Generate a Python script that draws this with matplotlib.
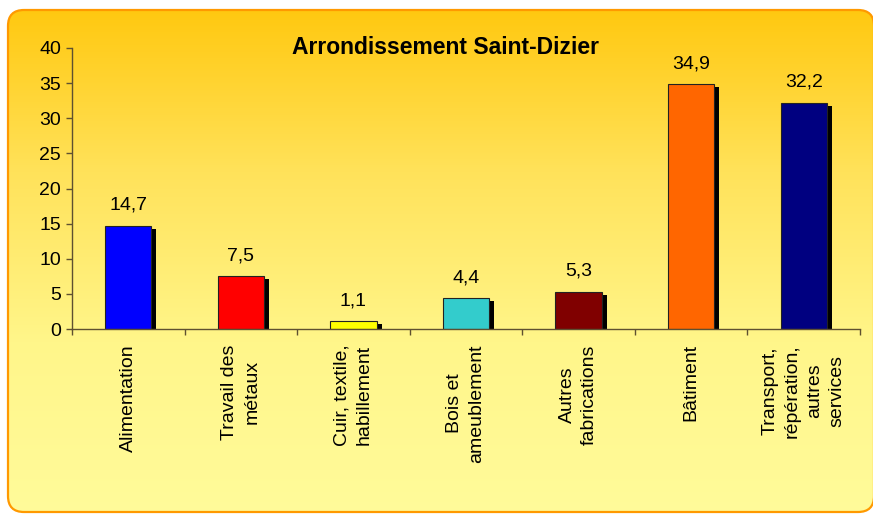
import numpy as np
import matplotlib.pyplot as plt
from matplotlib.patches import FancyBboxPatch
from matplotlib.colors import LinearSegmentedColormap
from matplotlib.transforms import offset_copy

# data
categories = ["Alimentation", "Travail des\nmétaux", "Cuir, textile,\nhabillement",
              "Bois et\nameublement", "Autres\nfabrications", "Bâtiment",
              "Transport,\nrépération,\nautres\nservices"]
values = [14.7, 7.5, 1.1, 4.4, 5.3, 34.9, 32.2]
value_labels = ["14,7", "7,5", "1,1", "4,4", "5,3", "34,9", "32,2"]
bar_colors = ["#0000FF", "#FF0000", "#FFFF00", "#33CCCC", "#800000", "#FF6600", "#000080"]
yticks = [0, 5, 10, 15, 20, 25, 30, 35, 40]
title = "Arrondissement Saint-Dizier"

plt.rcParams['font.family'] = ['Liberation Sans', 'DejaVu Sans']

W, H = 873, 514
fig = plt.figure(figsize=(W / 100, H / 100), dpi=100)
fig.patch.set_facecolor("white")

# rounded background with yellow gradient
bg = fig.add_axes([0, 0, 1, 1], zorder=0)
bg.set_xlim(0, W)
bg.set_ylim(H, 0)
bg.axis("off")
frame = FancyBboxPatch((8, 10), 866, 502, boxstyle="round,pad=0,rounding_size=16",
                       facecolor="none", edgecolor="#FF9900", linewidth=1.6)
bg.add_patch(frame)
cmap = LinearSegmentedColormap.from_list("bgy", ["#FFC70C", "#FFE25A", "#FFF68A", "#FFFB9A"])
grad = np.linspace(0, 1, 256).reshape(-1, 1)
im = bg.imshow(grad, extent=(0, W, H, 0), cmap=cmap, aspect="auto", origin="upper")
im.set_clip_path(frame)

# chart area
ax = fig.add_axes([72 / W, 1 - 329 / H, (860 - 72) / W, (329 - 48) / H], zorder=1)
ax.patch.set_alpha(0)
x = np.arange(len(values))
width = 0.41

shadow_tr = offset_copy(ax.transData, fig=fig, x=5, y=-3, units="dots")
ax.bar(x, values, width, color="black", transform=shadow_tr, zorder=1)
ax.bar(x, values, width, color=bar_colors, edgecolor="#222222", linewidth=0.8, zorder=2)

for i, v in enumerate(values):
    ax.annotate(value_labels[i], xy=(i, v), xytext=(0, 8.5), textcoords="offset points",
                ha="center", va="bottom", fontsize=14)

for i, cat in enumerate(categories):
    ax.annotate(cat, xy=(i, 0), xycoords=("data", "axes fraction"), xytext=(0, -11),
                textcoords="offset points", rotation=90, ha="center", va="top",
                multialignment="center", fontsize=14, linespacing=1.4)

ax.set_xlim(-0.5, len(values) - 0.5)
ax.set_ylim(0, 40)
ax.set_yticks(yticks)
ax.set_xticks(np.arange(len(values) + 1) - 0.5)
ax.set_xticklabels([])
axis_color = "#5E5030"
for s in ["top", "right"]:
    ax.spines[s].set_visible(False)
for s in ["left", "bottom"]:
    ax.spines[s].set_color(axis_color)
    ax.spines[s].set_linewidth(1.0)
ax.tick_params(axis="both", direction="out", length=4, width=1.0, color=axis_color,
               labelsize=14, pad=4)

fig.text(446 / W, 1 - 47 / H, title, ha="center", va="center", fontsize=16.5, fontweight="bold")

fig.savefig("out.png", dpi=100)
